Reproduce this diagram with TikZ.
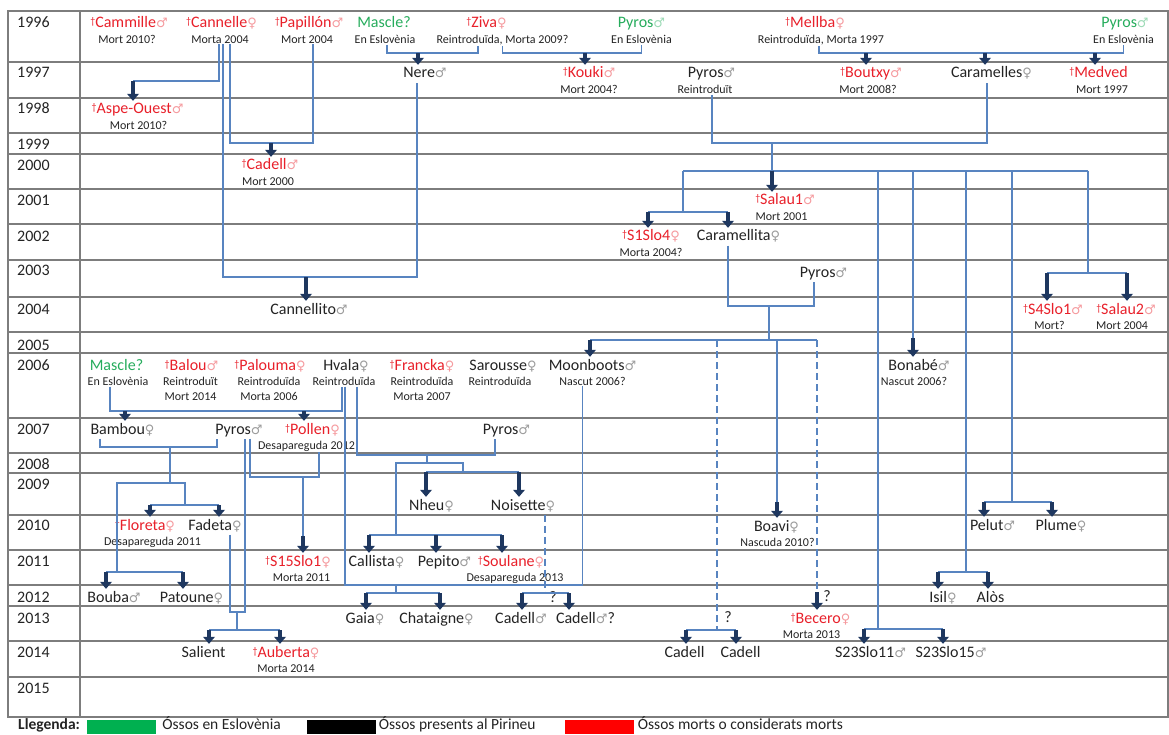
\documentclass[tikz,border=0pt]{standalone}
\usepackage{fontspec}
\setmainfont{Carlito}
\newfontfamily\simbfont{DejaVu Sans}
\usetikzlibrary{arrows.meta,positioning}

\definecolor{vermell}{RGB}{232,32,42}
\definecolor{verd}{RGB}{38,172,92}
\definecolor{negre}{RGB}{35,35,35}
\definecolor{blau}{RGB}{88,132,192}
\definecolor{fosc}{RGB}{30,55,95}
\definecolor{graella}{RGB}{125,125,125}
\definecolor{verdc}{RGB}{0,176,80}

\newcommand{\creu}{\raisebox{3pt}{\fontsize{10}{10}\selectfont †}}
\newcommand{\mas}{{\simbfont\fontsize{13}{13}\selectfont\color{.!45!white}♂}}
\newcommand{\fem}{{\simbfont\fontsize{13}{13}\selectfont\color{.!45!white}♀}}

\tikzset{
  nom/.style={anchor=base, inner sep=1pt, text height=12pt, text depth=3.5pt,
    font=\fontsize{16}{19}\selectfont, text=negre},
  mort/.style={nom, text=vermell},
  eslo/.style={nom, text=verd},
  nota/.style={inner sep=0.5pt, font=\fontsize{12}{15}\selectfont, text=negre, align=center},
  any/.style={anchor=base west, inner sep=0pt, font=\fontsize{16}{19}\selectfont, text=negre},
  llegtxt/.style={anchor=base west, inner sep=0pt, font=\fontsize{15.5}{18}\selectfont, text=negre},
  linia/.style={draw=blau, line width=1.3pt},
  dlinia/.style={linia, dash pattern=on 7pt off 4pt},
  fletxa/.style={draw=fosc, line width=4.5pt, -{Triangle[width=12pt,length=7pt,line width=0pt]}},
  caixa/.style={minimum width=69pt, minimum height=14pt, inner sep=0pt},
}

\begin{document}
\begin{tikzpicture}[x=1pt,y=-1pt]
\useasboundingbox (0,0) rectangle (1169,735);
\draw[graella,line width=1.2pt] (8,11) rectangle (1168,717);
\draw[graella,line width=1.2pt] (80,11) -- (80,717);
\foreach \y in {62,98,133,154,189,224,260,297,332,353,418,453,473,515,550,585,606,641,677}
  \draw[graella,line width=1.2pt] (8,\y) -- (1168,\y);
\foreach \a/\b in {1996/28,1997/78,1998/114,1999/150,2000/171,2001/206,2002/242,2003/276,2004/314,2005/350,2006/370,2007/434,2008/469,2009/489,2010/530,2011/566,2012/602,2013/623,2014/657,2015/693}
  \node[any] (any\a) at (17,\b) {\a};

\node[mort] (cammille) at (129,28) {\creu Cammille\mas};
\node[nota, below=2pt of cammille, xshift=-2pt] (cammille-n) {Mort 2010?};
\node[mort] (cannelle) at (221.5,28) {\creu Cannelle\fem};
\node[nota, below=2pt of cannelle, xshift=-1.5pt] (cannelle-n) {Morta 2004};
\node[mort] (papillon) at (309,28) {\creu Papillón\mas};
\node[nota, below=2pt of papillon, xshift=-2pt] (papillon-n) {Mort 2004};
\node[eslo] (mascleA) at (384,28) {Mascle?};
\node[nota, below=2pt of mascleA, xshift=1pt] (mascleA-n) {En Eslovènia};
\node[mort] (ziva) at (486.5,28) {\creu Ziva\fem};
\node[nota, below=2pt of ziva, xshift=16pt] (ziva-n) {Reintroduïda, Morta 2009?};
\node[eslo] (pyrosA) at (641.5,28) {Pyros\mas};
\node[nota, below=2pt of pyrosA] (pyrosA-n) {En Eslovènia};
\node[mort] (mellba) at (815,28) {\creu Mellba\fem};
\node[nota, below=2pt of mellba, xshift=6pt] (mellba-n) {Reintroduïda, Morta 1997};
\node[eslo] (pyrosB) at (1125,28) {Pyros\mas};
\node[nota, below=2pt of pyrosB, xshift=-1.5pt] (pyrosB-n) {En Eslovènia};

\node[nom] (nere) at (425,78) {Nere\mas};
\node[mort] (kouki) at (589,78) {\creu Kouki\mas};
\node[nota, below=2pt of kouki] (kouki-n) {Mort 2004?};
\node[nom] (pyrosC) at (711.5,78) {Pyros\mas};
\node[nota, below=2pt of pyrosC, xshift=-6.5pt] (pyrosC-n) {Reintroduït};
\node[mort] (boutxy) at (871,78) {\creu Boutxy\mas};
\node[nota, below=2pt of boutxy, xshift=-3pt] (boutxy-n) {Mort 2008?};
\node[nom] (caramelles) at (991.5,78) {Caramelles\fem};
\node[mort] (medved) at (1098.5,78) {\creu Medved};
\node[nota, below=2pt of medved, xshift=3.5pt] (medved-n) {Mort 1997};

\node[mort] (aspe) at (137.5,114) {\creu Aspe-Ouest\mas};
\node[nota, below=2pt of aspe, xshift=1pt] (aspe-n) {Mort 2010?};
\node[mort] (cadellA) at (270,170) {\creu Cadell\mas};
\node[nota, below=2pt of cadellA, xshift=-2pt] (cadellA-n) {Mort 2000};
\node[mort] (salau1) at (785,205) {\creu Salau1\mas};
\node[nota, below=2pt of salau1, xshift=-3.5pt] (salau1-n) {Mort 2001};
\node[mort] (s1slo4) at (651,241) {\creu S1Slo4\fem};
\node[nota, below=2pt of s1slo4] (s1slo4-n) {Morta 2004?};
\node[nom] (caramellita) at (738.5,241) {Caramellita\fem};
\node[nom] (pyrosD) at (823.5,277) {Pyros\mas};
\node[nom] (cannellito) at (309,314) {Cannellito\mas};
\node[mort] (s4slo1) at (1053,314) {\creu S4Slo1\mas};
\node[nota, below=2pt of s4slo1, xshift=-3.5pt] (s4slo1-n) {Mort?};
\node[mort] (salau2) at (1126,314) {\creu Salau2\mas};
\node[nota, below=2pt of salau2, xshift=-4pt] (salau2-n) {Mort 2004};

\node[eslo] (mascleB) at (116.5,370) {Mascle?};
\node[nota, below=2pt of mascleB, xshift=1.5pt] (mascleB-n) {En Eslovènia};
\node[mort] (balou) at (191.5,370) {\creu Balou\mas};
\node[nota, below=2pt of balou, xshift=-1pt] (balou-n) {Reintroduït\\Mort 2014};
\node[mort] (palouma) at (270,370) {\creu Palouma\fem};
\node[nota, below=2pt of palouma, xshift=-1pt] (palouma-n) {Reintroduïda\\Morta 2006};
\node[nom] (hvala) at (346,370) {Hvala\fem};
\node[nota, below=2pt of hvala, xshift=-2pt] (hvala-n) {Reintroduïda};
\node[mort] (francka) at (422,370) {\creu Francka\fem};
\node[nota, below=2pt of francka] (francka-n) {Reintroduïda\\Morta 2007};
\node[nom] (sarousse) at (503,370) {Sarousse\fem};
\node[nota, below=2pt of sarousse, xshift=-3pt] (sarousse-n) {Reintroduïda};
\node[nom] (moonboots) at (592.5,370) {Moonboots\mas};
\node[nota, below=2pt of moonboots] (moonboots-n) {Nascut 2006?};
\node[nom] (bonabe) at (919,370) {Bonabé\mas};
\node[nota, below=2pt of bonabe, xshift=-5pt] (bonabe-n) {Nascut 2006?};

\node[nom] (bambou) at (122.5,434) {Bambou\fem};
\node[nom] (pyrosE) at (239,434) {Pyros\mas};
\node[mort] (pollen) at (312.5,434) {\creu Pollen\fem};
\node[nota, below=2pt of pollen, xshift=-6pt] (pollen-n) {Desapareguda 2012};
\node[nom] (pyrosF) at (506.5,434) {Pyros\mas};

\node[nom] (nheu) at (431.5,510) {Nheu\fem};
\node[nom] (noisette) at (523,510) {Noisette\fem};
\node[mort] (floreta) at (145,530) {\creu Floreta\fem};
\node[nota, below=2pt of floreta, xshift=7.5pt] (floreta-n) {Desapareguda 2011};
\node[nom] (fadeta) at (215,530) {Fadeta\fem};
\node[nom] (boavi) at (776.5,531) {Boavi\fem};
\node[nota, below=2pt of boavi, xshift=1pt] (boavi-n) {Nascuda 2010?};
\node[nom] (pelut) at (992.5,530) {Pelut\mas};
\node[nom] (plume) at (1061,530) {Plume\fem};

\node[mort] (s15slo1) at (298,566) {\creu S15Slo1\fem};
\node[nota, below=2pt of s15slo1, xshift=3.5pt] (s15slo1-n) {Morta 2011};
\node[nom] (callista) at (376.5,566) {Callista\fem};
\node[nom] (pepito) at (444.5,566) {Pepito\mas};
\node[mort] (soulane) at (511,566) {\creu Soulane\fem};
\node[nota, below=2pt of soulane, xshift=4pt] (soulane-n) {Desapareguda 2013};

\node[nom] (bouba) at (114,602) {Bouba\mas};
\node[nom] (patoune) at (191.5,602) {Patoune\fem};
\node[nom] (isil) at (943,602) {Isil\fem};
\node[nom] (alos) at (990.5,602) {Alòs};

\node[nom] (gaia) at (365,623) {Gaia\fem};
\node[nom] (chataigne) at (436.5,623) {Chataigne\fem};
\node[nom] (cadellB) at (521,623) {Cadell\mas};
\node[nom] (cadellC) at (585.5,623) {Cadell\mas?};
\node[mort] (becero) at (820.5,623) {\creu Becero\fem};
\node[nota, below=2pt of becero, xshift=-9pt] (becero-n) {Morta 2013};

\node[nom] (salient) at (203.5,657) {Salient};
\node[mort] (auberta) at (286,657) {\creu Auberta\fem};
\node[nota, below=2pt of auberta] (auberta-n) {Morta 2014};
\node[nom] (cadellD) at (684.5,657) {Cadell};
\node[nom] (cadellE) at (740.5,657) {Cadell};
\node[nom] (s23slo11) at (870.5,657) {S23Slo11\mas};
\node[nom] (s23slo15) at (951,657) {S23Slo15\mas};

\node[nom] (q1) at (553,602) {?};
\node[nom] (q2) at (728,622) {?};
\node[nom] (q3) at (827,601) {?};

\draw[linia] ([xshift=-1pt]cannelle-n.south) |- (133,81);
\draw[fletxa] (133,81) -- (133,81 |- aspe.north);
\draw[linia] ([xshift=10pt]cannelle-n.south) |- (271,143) -| ([xshift=6pt]papillon-n.south);
\draw[fletxa] (271,143) -- (271,143 |- cadellA.north);
\draw[linia] ([xshift=3pt]cannelle-n.south) |- (306,277) -| ([xshift=-8pt]nere.south);
\draw[fletxa] (306,277) -- (306,277 |- cannellito.north);

\draw[linia] ([xshift=2pt]mascleA-n.south) |- (418,53) -| ([xshift=-24.5pt]ziva-n.south);
\draw[fletxa] (418,53) -- (418,53 |- nere.north);
\draw[linia] (ziva-n.south) |- (585,53) -| (pyrosA-n.south);
\draw[fletxa] (585,53) -- (585,53 |- kouki.north);
\draw[linia] ([xshift=-2pt]mellba-n.south) |- (985,53) -| (pyrosB-n.south);
\draw[fletxa] (866,53) -- (866,53 |- boutxy.north);
\draw[fletxa] (985,53) -- (985,53 |- caramelles.north);
\draw[fletxa] (1095,53) -- (1095,53 |- medved.north);

\draw[linia] ([xshift=7pt]pyrosC-n.south) |- (772,143) -| ([xshift=-4.5pt]caramelles.south);
\draw[linia] (772,143) -- (772,171);
\draw[linia] (683,171) -- (1088,171);
\draw[fletxa] (772,171) -- (772,171 |- salau1.north);
\draw[linia] (683,171) |- (648,212) -- (728,212);
\draw[fletxa] (648,212) -- (648,212 |- s1slo4.north);
\draw[fletxa] (728,212) -- (728,212 |- caramellita.north);
\draw[linia] (878,171) |- (864,629) -- (943,629);
\draw[fletxa] (864,629) -- (864,629 |- s23slo11.north);
\draw[fletxa] (943,629) -- (943,629 |- s23slo15.north);
\draw[linia] (913,171) -- (913,338);
\draw[fletxa] (913,338) -- (913,338 |- bonabe.north);
\draw[linia] (966,171) |- (938,572) -- (988,572);
\draw[fletxa] (938,572) -- (938,572 |- isil.north);
\draw[fletxa] (988,572) -- (988,572 |- alos.north);
\draw[linia] (1012,171) |- (984,502) -- (1052,502);
\draw[fletxa] (984,502) -- (984,502 |- pelut.north);
\draw[fletxa] (1052,502) -- (1052,502 |- plume.north);
\draw[linia] (1088,171) |- (1047,273) -- (1127,273);
\draw[fletxa] (1047,273) -- (1047,273 |- s4slo1.north);
\draw[fletxa] (1127,273) -- (1127,273 |- salau2.north);

\draw[linia] ([xshift=-10.5pt]caramellita.south) |- (769,306) -| ([xshift=-9.5pt]pyrosD.south);
\draw[linia] (769,306) -- (769,340);
\draw[linia] (590,340) -- (817,340);
\draw[fletxa] (590,340) -- (590,340 |- moonboots.north);
\draw[dlinia] (717,340) -- (717,630);
\draw[linia] (686,630) -- (736,630);
\draw[fletxa] (686,630) -- (686,630 |- cadellD.north);
\draw[fletxa] (736,630) -- (736,630 |- cadellE.north);
\draw[linia] (777,340) -- (777,502);
\draw[fletxa] (777,502) -- (777,502 |- boavi.north);
\draw[dlinia] (817,340) -- (817,592);
\draw[fletxa] (817,592) -- (817,592 |- becero.north);

\draw[linia] ([xshift=-22.5pt]bambou.south) |- (170,447) -| ([xshift=-22pt]pyrosE.south);
\draw[linia] (170,447) -- (170,483);
\draw[linia] (117,572) |- (185,483) -- (185,505);
\draw[linia] (150,505) -- (219,505);
\draw[fletxa] (150,505) -- (150,505 |- floreta.north);
\draw[fletxa] (219,505) -- (219,505 |- fadeta.north);
\draw[linia] (106,572) -- (183,572);
\draw[fletxa] (106,572) -- (106,572 |- bouba.north);
\draw[fletxa] (183,572) -- (183,572 |- patoune.north);
\draw[linia] ([xshift=15pt]fadeta.south) |- (237,612) -| ([xshift=6pt]pyrosE.south);
\draw[linia] (237,612) |- (209,630) -- (280,630);
\draw[fletxa] (209,630) -- (209,630 |- salient.north);
\draw[fletxa] (280,630) -- (280,630 |- auberta.north);
\draw[linia] ([xshift=11pt]pyrosE.south) |- (303,477) -| ([xshift=12.5pt]pollen-n.south);
\draw[linia] (303,477) -- (303,536);
\draw[fletxa] (303,536) -- (303,536 |- s15slo1.north);

\draw[linia] ([xshift=-8pt]mascleB-n.south) |- (125,411) -| ([xshift=-2pt]hvala-n.south);
\draw[fletxa] (125,411) -- (125,411 |- bambou.north);
\draw[fletxa] (304,411) -- (304,411 |- pollen.north);
\draw[linia] ([xshift=13pt]hvala-n.south) |- (427,455) -| ([xshift=-11.5pt]pyrosF.south);
\draw[linia] (427,455) -- (427,463);
\draw[linia] (396,535) |- (463,463) -- (463,472);
\draw[linia] (426,472) -- (519,472);
\draw[fletxa] (426,472) -- (426,472 |- nheu.north);
\draw[fletxa] (519,472) -- (519,472 |- noisette.north);
\draw[linia] (369,535) -- (502,535);
\draw[fletxa] (369,535) -- (369,535 |- callista.north);
\draw[fletxa] (436,535) -- (436,535 |- pepito.north);
\draw[fletxa] (502,535) -- (502,535 |- soulane.north);
\draw[linia] ([xshift=1pt]hvala-n.south) |- (396,585) -| ([xshift=-10pt]moonboots-n.south);
\draw[linia] (396,585) |- (366,593) -- (440,593);
\draw[fletxa] (366,593) -- (366,593 |- gaia.north);
\draw[fletxa] (440,593) -- (440,593 |- chataigne.north);
\draw[dlinia] ([xshift=22pt]noisette.south) -- (545,593);
\draw[linia] (522,593) -- (569,593);
\draw[fletxa] (522,593) -- (522,593 |- cadellB.north);
\draw[fletxa] (569,593) -- (569,593 |- cadellC.north);

\node[llegtxt, font=\bfseries\fontsize{15.5}{18}\selectfont] (llegenda) at (18,729.5) {Llegenda:};
\node[caixa, fill=verdc] (c-verd) at (121.5,727) {};
\node[llegtxt] (t-verd) at ([xshift=6pt]c-verd.east |- llegenda.base) {Óssos en Eslovènia};
\node[caixa, fill=black] (c-negre) at (341,727) {};
\node[llegtxt] (t-negre) at ([xshift=3pt]c-negre.east |- llegenda.base) {Óssos presents al Pirineu};
\node[caixa, fill=red] (c-vermell) at (599,727) {};
\node[llegtxt] (t-vermell) at ([xshift=4pt]c-vermell.east |- llegenda.base) {Óssos morts o considerats morts};
\end{tikzpicture}
\end{document}
